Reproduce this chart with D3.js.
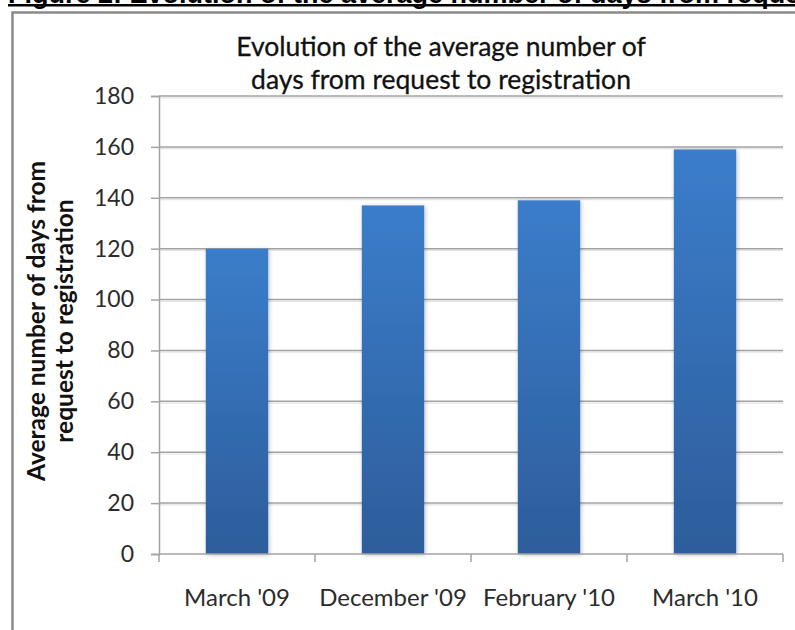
<!DOCTYPE html>
<html>
<head>
<meta charset="utf-8">
<script src="https://cdn.jsdelivr.net/npm/d3@7"></script>
<style>
  html, body { margin: 0; padding: 0; background: #fff; }
  svg { display: block; }
</style>
</head>
<body>
<svg id="chart" width="795" height="630"></svg>
<script>
// Average number of days from request to registration, per survey date
const categories = ["March '09", "December '09", "February '10", "March '10"];
const values = [120, 137, 139, 159];
const yTicks = [0, 20, 40, 60, 80, 100, 120, 140, 160, 180];
const titleLines = ["Evolution of the average number of", "days from request to registration"];
const yTitleLines = ["Average number of days from", "request to registration"];
const figureCaption = "Figure 2: Evolution of the average number of days from request to registration";

const svg = d3.select("#chart");
const W = 795, H = 630;
const plot = { left: 159, right: 783, top: 96, bottom: 554 };
const FONT = "Lato, 'Open Sans', sans-serif";

svg.append("rect").attr("width", W).attr("height", H).attr("fill", "#fff");

// Figure caption above the chart frame (runs past the page top and right edge)
svg.append("text")
  .attr("x", 8).attr("y", 3)
  .attr("font-family", "'Liberation Sans', Arial, sans-serif")
  .attr("font-weight", 700)
  .attr("font-size", 27)
  .attr("fill", "#000")
  .text(figureCaption);
svg.append("rect")
  .attr("x", 8).attr("y", 4).attr("width", W).attr("height", 2.5)
  .attr("fill", "#000");

// Chart frame
svg.append("rect")
  .attr("x", 12.5).attr("y", 12.5)
  .attr("width", W + 20).attr("height", H + 20)
  .attr("fill", "none")
  .attr("stroke", "#8a8a8a")
  .attr("stroke-width", 2.5);

// Scales
const x = d3.scaleBand()
  .domain(categories)
  .range([plot.left, plot.right])
  .paddingInner(0.6)
  .paddingOuter(0.3);
const y = d3.scaleLinear().domain([0, 180]).range([plot.bottom, plot.top]);

const defs = svg.append("defs");
const grad = defs.append("linearGradient")
  .attr("id", "barFill").attr("x1", 0).attr("y1", 0).attr("x2", 0).attr("y2", 1);
grad.append("stop").attr("offset", "0%").attr("stop-color", "#3b7dcb");
grad.append("stop").attr("offset", "100%").attr("stop-color", "#2d5d9b");

const shadow = defs.append("filter").attr("id", "barShadow")
  .attr("x", "-20%").attr("y", "-20%").attr("width", "140%").attr("height", "140%");
shadow.append("feDropShadow")
  .attr("dx", 1).attr("dy", 1).attr("stdDeviation", 2)
  .attr("flood-color", "#000").attr("flood-opacity", 0.25);

// Horizontal gridlines (with a faint lighter line beneath)
const grid = svg.append("g");
grid.selectAll("line.soft").data(yTicks.filter(d => d > 0)).join("line")
  .attr("class", "soft")
  .attr("x1", plot.left).attr("x2", plot.right)
  .attr("y1", d => y(d) + 1.8).attr("y2", d => y(d) + 1.8)
  .attr("stroke", "#e4e4e4").attr("stroke-width", 1.2);
grid.selectAll("line.main").data(yTicks.filter(d => d > 0)).join("line")
  .attr("class", "main")
  .attr("x1", plot.left).attr("x2", plot.right)
  .attr("y1", d => y(d)).attr("y2", d => y(d))
  .attr("stroke", "#a3a3a3").attr("stroke-width", 1.5);

// Bars
svg.append("g").selectAll("rect").data(values).join("rect")
  .attr("x", (d, i) => x(categories[i]))
  .attr("width", x.bandwidth())
  .attr("y", d => y(d))
  .attr("height", d => y(0) - y(d))
  .attr("fill", "url(#barFill)")
  .attr("filter", "url(#barShadow)");

// Y axis
const yAxis = svg.append("g")
  .attr("transform", `translate(${plot.left},0)`)
  .call(d3.axisLeft(y).tickValues(yTicks).tickSize(8).tickPadding(17).tickFormat(d3.format("d")));
yAxis.select(".domain").attr("stroke", "#a3a3a3").attr("stroke-width", 1.5);
yAxis.selectAll(".tick line").attr("stroke", "#a3a3a3").attr("stroke-width", 1.5);
yAxis.selectAll(".tick text")
  .attr("font-family", FONT).attr("font-size", 23).attr("fill", "#2b2b2b");

// X axis: boundary ticks between categories, labels centred on bars
const step = x.step();
const boundaries = categories.map(c => x(c) - step * x.paddingOuter())
  .concat([x(categories[categories.length - 1]) + x.bandwidth() + step * x.paddingOuter()]);
const xAxis = svg.append("g").attr("transform", `translate(0,${plot.bottom})`);
xAxis.append("line")
  .attr("x1", plot.left).attr("x2", plot.right)
  .attr("stroke", "#a3a3a3").attr("stroke-width", 1.5);
xAxis.selectAll("line.tick").data(boundaries).join("line")
  .attr("class", "tick")
  .attr("x1", d => d).attr("x2", d => d)
  .attr("y1", 0).attr("y2", 8)
  .attr("stroke", "#a3a3a3").attr("stroke-width", 1.5);
xAxis.selectAll("text").data(categories).join("text")
  .attr("x", d => x(d) + x.bandwidth() / 2)
  .attr("y", 52)
  .attr("text-anchor", "middle")
  .attr("font-family", FONT).attr("font-size", 24).attr("fill", "#2b2b2b")
  .text(d => d);

// Chart title
svg.append("g").selectAll("text").data(titleLines).join("text")
  .attr("x", 441)
  .attr("y", (d, i) => 56 + i * 33)
  .attr("text-anchor", "middle")
  .attr("font-family", FONT).attr("font-size", 26.5).attr("fill", "#111")
  .attr("stroke", "#111").attr("stroke-width", 0.3)
  .text(d => d);

// Y axis title
svg.append("g").selectAll("text").data(yTitleLines).join("text")
  .attr("transform", (d, i) => `translate(${45 + i * 28},321) rotate(-90)`)
  .attr("text-anchor", "middle")
  .attr("font-family", FONT).attr("font-weight", 700).attr("font-size", 24.5).attr("fill", "#111")
  .text(d => d);
</script>
</body>
</html>
